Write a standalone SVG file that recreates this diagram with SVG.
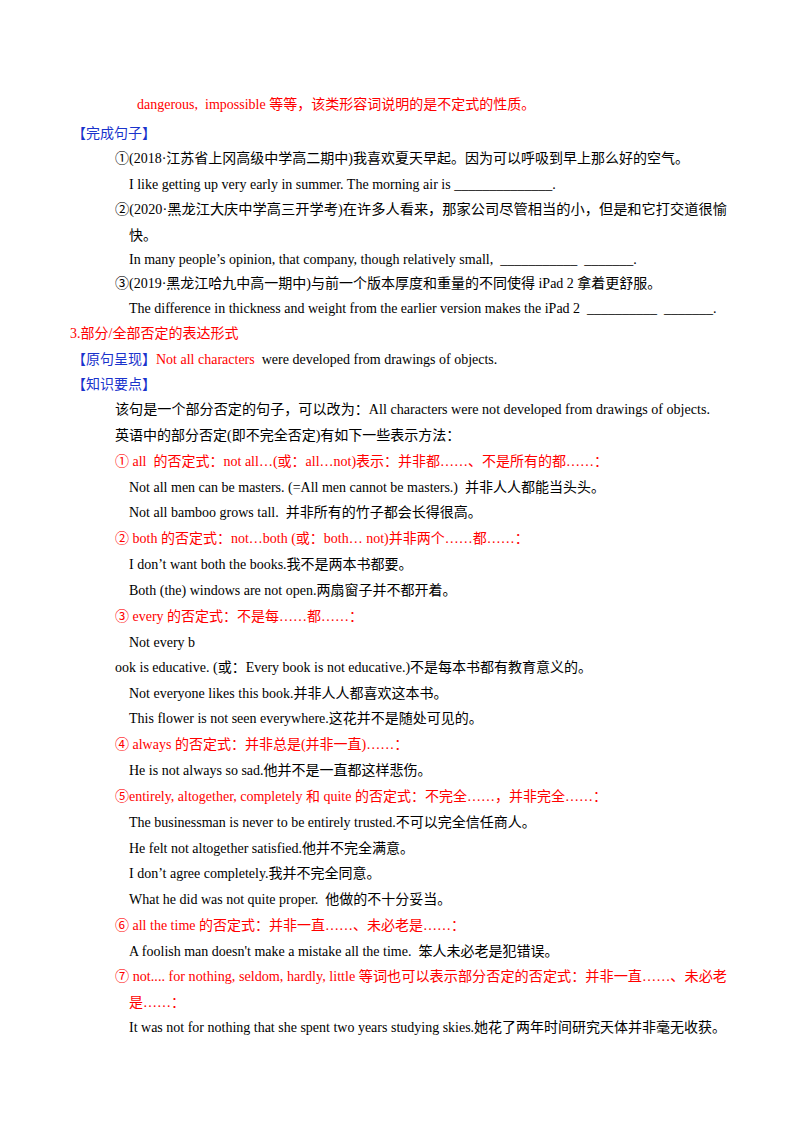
<svg xmlns="http://www.w3.org/2000/svg" width="800" height="1132" viewBox="0 0 800 1132">
<style>
text{font-family:"Liberation Serif","Noto Sans CJK SC",serif;font-size:14px;fill:#000;white-space:pre}
.r{fill:#ff0000}.b{fill:#1a33cc}
</style>
<rect width="800" height="1132" fill="#fff"/>
<text class="r" x="137" y="109">dangerous,  impossible 等等，该类形容词说明的是不定式的性质。</text>
<text class="b" x="72" y="138">【完成句子】</text>
<text x="115" y="163">①(2018·江苏省上冈高级中学高二期中)我喜欢夏天早起。因为可以呼吸到早上那么好的空气。</text>
<text x="129" y="189">I like getting up very early in summer. The morning air is ______________.</text>
<text x="115" y="214" textLength="612" lengthAdjust="spacingAndGlyphs">②(2020·黑龙江大庆中学高三开学考)在许多人看来，那家公司尽管相当的小，但是和它打交道很愉</text>
<text x="129" y="240">快。</text>
<text x="129" y="264">In many people’s opinion, that company, though relatively small,  ___________  _______.</text>
<text x="115" y="288">③(2019·黑龙江哈九中高一期中)与前一个版本厚度和重量的不同使得 iPad 2 拿着更舒服。</text>
<text x="129" y="313">The difference in thickness and weight from the earlier version makes the iPad 2  __________  _______.</text>
<text class="r" x="70" y="338">3.部分/全部否定的表达形式</text>
<text x="72" y="364"><tspan class="b">【原句呈现】</tspan><tspan class="r">Not all characters</tspan>  were developed from drawings of objects.</text>
<text class="b" x="72" y="389">【知识要点】</text>
<text x="115" y="414" textLength="595" lengthAdjust="spacingAndGlyphs">该句是一个部分否定的句子，可以改为：All characters were not developed from drawings of objects.</text>
<text x="115" y="440">英语中的部分否定(即不完全否定)有如下一些表示方法：</text>
<text class="r" x="115" y="466">① all  的否定式：not all…(或：all…not)表示：并非都……、不是所有的都……：</text>
<text x="129" y="492">Not all men can be masters. (=All men cannot be masters.)  并非人人都能当头头。</text>
<text x="129" y="517">Not all bamboo grows tall.  并非所有的竹子都会长得很高。</text>
<text class="r" x="115" y="543">② both 的否定式：not…both (或：both… not)并非两个……都……：</text>
<text x="129" y="569">I don’t want both the books.我不是两本书都要。</text>
<text x="129" y="595">Both (the) windows are not open.两扇窗子并不都开着。</text>
<text class="r" x="115" y="621">③ every 的否定式：不是每……都……：</text>
<text x="129" y="647">Not every b</text>
<text x="115" y="672">ook is educative. (或：Every book is not educative.)不是每本书都有教育意义的。</text>
<text x="129" y="698">Not everyone likes this book.并非人人都喜欢这本书。</text>
<text x="129" y="723">This flower is not seen everywhere.这花并不是随处可见的。</text>
<text class="r" x="115" y="749">④ always 的否定式：并非总是(并非一直)……：</text>
<text x="129" y="775">He is not always so sad.他并不是一直都这样悲伤。</text>
<text class="r" x="115" y="801">⑤entirely, altogether, completely 和 quite 的否定式：不完全……，并非完全……：</text>
<text x="129" y="827">The businessman is never to be entirely trusted.不可以完全信任商人。</text>
<text x="129" y="853">He felt not altogether satisfied.他并不完全满意。</text>
<text x="129" y="878">I don’t agree completely.我并不完全同意。</text>
<text x="129" y="904">What he did was not quite proper.  他做的不十分妥当。</text>
<text class="r" x="115" y="930">⑥ all the time 的否定式：并非一直……、未必老是……：</text>
<text x="129" y="956">A foolish man doesn't make a mistake all the time.  笨人未必老是犯错误。</text>
<text class="r" x="115" y="981" textLength="612" lengthAdjust="spacingAndGlyphs">⑦ not.... for nothing, seldom, hardly, little 等词也可以表示部分否定的否定式：并非一直……、未必老</text>
<text class="r" x="129" y="1007">是……：</text>
<text x="129" y="1032" textLength="597" lengthAdjust="spacingAndGlyphs">It was not for nothing that she spent two years studying skies.她花了两年时间研究天体并非毫无收获。</text>
</svg>
